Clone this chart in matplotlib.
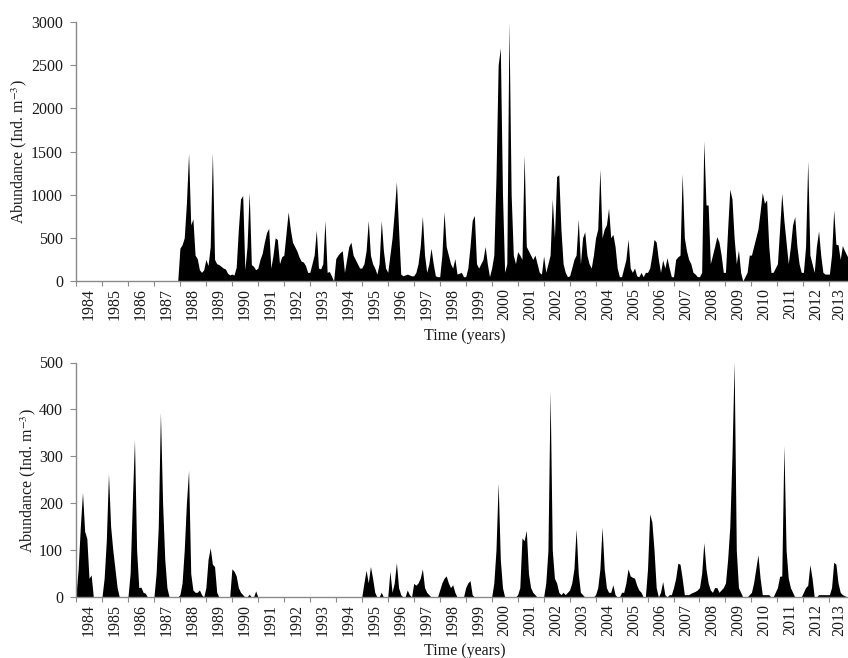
import numpy as np
import matplotlib
matplotlib.use("Agg")
import matplotlib.pyplot as plt
from matplotlib.ticker import FixedLocator, NullFormatter, FixedFormatter

plt.rcParams['font.family'] = ['Liberation Serif', 'DejaVu Serif']
plt.rcParams['mathtext.fontset'] = 'stix'

years = list(range(1984, 2014))

# monthly abundance, upper panel (Ind. m-3), Jan..Dec per row
abund_top = (
    [0] * 48 +                                                          # 1984-1987
    [380, 420, 500, 900, 1480, 650, 720, 300, 260, 130, 100, 130] +     # 1988
    [250, 180, 400, 1490, 250, 200, 190, 170, 150, 140, 90, 70] +       # 1989
    [80, 70, 160, 600, 950, 990, 130, 400, 1030, 190, 170, 130] +       # 1990
    [150, 250, 320, 450, 560, 610, 150, 300, 500, 480, 200, 280] +      # 1991
    [300, 550, 800, 600, 450, 400, 350, 280, 230, 220, 180, 100] +      # 1992
    [100, 200, 300, 590, 150, 140, 200, 700, 100, 110, 60, 0] +         # 1993
    [260, 300, 330, 350, 100, 250, 400, 450, 300, 250, 200, 150] +      # 1994
    [150, 200, 350, 700, 300, 200, 150, 80, 200, 700, 350, 150] +       # 1995
    [100, 300, 500, 800, 1150, 600, 80, 60, 70, 80, 70, 60] +           # 1996
    [60, 100, 200, 400, 750, 300, 100, 200, 380, 200, 60, 50] +         # 1997
    [50, 300, 800, 400, 300, 200, 150, 260, 80, 90, 100, 50] +          # 1998
    [50, 150, 400, 700, 760, 200, 150, 200, 250, 400, 200, 50] +        # 1999
    [150, 300, 1200, 2500, 2700, 1000, 100, 200, 3000, 1000, 300, 200] +  # 2000
    [340, 300, 250, 1460, 400, 350, 300, 250, 300, 200, 100, 80] +      # 2001
    [290, 100, 200, 300, 950, 500, 1210, 1230, 600, 200, 100, 50] +     # 2002
    [60, 150, 250, 300, 715, 200, 500, 570, 300, 200, 150, 300] +       # 2003
    [500, 600, 1295, 500, 600, 650, 843, 500, 541, 400, 150, 50] +      # 2004
    [50, 150, 250, 483, 150, 100, 150, 60, 50, 100, 50, 100] +          # 2005
    [100, 150, 300, 483, 450, 250, 100, 244, 150, 270, 150, 50] +       # 2006
    [50, 250, 280, 300, 1241, 500, 350, 250, 200, 100, 80, 50] +        # 2007
    [50, 100, 1624, 881, 880, 200, 300, 400, 514, 450, 300, 100] +      # 2008
    [100, 600, 1063, 950, 500, 200, 360, 100, 0, 50, 100, 300] +        # 2009
    [300, 400, 500, 600, 800, 1024, 900, 940, 400, 100, 100, 150] +     # 2010
    [200, 600, 1017, 700, 450, 200, 400, 650, 746, 400, 200, 100] +     # 2011
    [100, 400, 1392, 300, 200, 100, 400, 580, 300, 100, 80, 80] +       # 2012
    [80, 300, 823, 425, 420, 250, 410, 350, 300, 250, 200, 150]         # 2013
)

# monthly abundance, lower panel
abund_bottom = (
    [5, 60, 150, 223, 140, 125, 40, 47, 0, 0, 0, 0] +                   # 1984
    [0, 40, 120, 263, 150, 100, 60, 20, 0, 0, 0, 0] +                   # 1985
    [0, 50, 200, 335, 100, 20, 21, 10, 8, 0, 0, 0] +                    # 1986
    [0, 50, 150, 394, 200, 80, 20, 0, 0, 0, 0, 0] +                     # 1987
    [5, 30, 100, 200, 270, 50, 15, 10, 10, 15, 5, 0] +                  # 1988
    [20, 80, 105, 70, 65, 10, 0, 0, 0, 0, 0, 0] +                       # 1989
    [60, 55, 45, 20, 10, 5, 0, 0, 6, 0, 0, 13] +                        # 1990
    [0] * 48 +                                                          # 1991-1994
    [0, 30, 57, 30, 65, 40, 10, 0, 0, 10, 0, 0] +                       # 1995
    [0, 55, 10, 30, 73, 20, 5, 0, 0, 15, 5, 0] +                        # 1996
    [29, 25, 30, 40, 60, 20, 10, 5, 0, 0, 0, 0] +                       # 1997
    [15, 30, 40, 45, 30, 20, 26, 10, 0, 0, 0, 0] +                      # 1998
    [20, 30, 35, 5, 0, 0, 0, 0, 0, 0, 0, 0] +                           # 1999
    [0, 30, 100, 243, 80, 20, 0, 0, 0, 0, 0, 0] +                       # 2000
    [5, 20, 126, 120, 142, 50, 20, 10, 5, 0, 0, 0] +                    # 2001
    [0, 30, 100, 439, 100, 40, 30, 10, 5, 10, 5, 10] +                  # 2002
    [15, 30, 60, 145, 50, 10, 5, 0, 0, 0, 0, 0] +                       # 2003
    [5, 20, 60, 149, 60, 20, 10, 10, 26, 5, 0, 0] +                     # 2004
    [10, 10, 30, 60, 45, 42, 40, 25, 15, 10, 0, 0] +                    # 2005
    [60, 177, 160, 100, 20, 0, 10, 33, 5, 0, 5, 5] +                    # 2006
    [20, 40, 72, 70, 40, 5, 5, 5, 8, 10, 12, 15] +                      # 2007
    [20, 50, 116, 60, 30, 15, 10, 20, 20, 10, 15, 20] +                 # 2008
    [30, 80, 150, 300, 502, 100, 20, 10, 0, 0, 0, 5] +                  # 2009
    [10, 30, 60, 90, 40, 5, 5, 5, 5, 0, 0, 10] +                        # 2010
    [20, 44, 45, 323, 100, 40, 20, 10, 0, 0, 0, 0] +                    # 2011
    [10, 20, 25, 69, 40, 0, 0, 5, 5, 5, 5, 5] +                         # 2012
    [5, 20, 74, 70, 30, 10, 5, 3, 0, 0, 0, 0]                           # 2013
)

W, H = 848, 658
fig = plt.figure(figsize=(W / 100, H / 100), dpi=100)

GRAY = '#8a8a8a'
TXT = '#1a1a1a'
FS = 11.5
XMAX = 356.6


def style_axis(ax, values, ymax, ystep):
    x = np.arange(len(values))
    ax.fill_between(x, values, 0, color='black', lw=0)
    ax.set_xlim(0, XMAX)
    ax.set_ylim(0, ymax)
    ax.set_yticks(np.arange(0, ymax + 1, ystep))
    for s in ['top', 'right']:
        ax.spines[s].set_visible(False)
    for s in ['left', 'bottom']:
        ax.spines[s].set_color(GRAY)
        ax.spines[s].set_linewidth(1.0)
    # year boundaries as major ticks, labels centred on each year
    ax.xaxis.set_major_locator(FixedLocator([12 * k for k in range(len(years))]))
    ax.xaxis.set_major_formatter(NullFormatter())
    # last label nudged in so it stays inside the figure
    mids = [min(12 * k + 6, XMAX - 4) for k in range(len(years))]
    ax.xaxis.set_minor_locator(FixedLocator(mids))
    ax.xaxis.set_minor_formatter(FixedFormatter([str(y) for y in years]))
    ax.tick_params(axis='x', which='major', length=3.6, color=GRAY, direction='out')
    ax.tick_params(axis='x', which='minor', length=0, pad=5, labelrotation=90,
                   labelsize=FS, labelcolor=TXT)
    ax.tick_params(axis='y', length=4.3, color=GRAY, direction='out', pad=5,
                   labelsize=FS, labelcolor=TXT)


ax1 = fig.add_axes([76 / W, 1 - 281 / H, 772 / W, 259 / H])
style_axis(ax1, abund_top, 3000, 500)

ax2 = fig.add_axes([76 / W, 1 - 597 / H, 772 / W, 234.5 / H])
style_axis(ax2, abund_bottom, 500, 100)

ylab = r'Abundance (Ind. m$^{-3}$)'
fig.text(19 / W, 1 - 152 / H, ylab, rotation=90, ha='center', va='center',
         fontsize=FS, color=TXT)
fig.text(28 / W, 1 - 481 / H, ylab, rotation=90, ha='center', va='center',
         fontsize=FS, color=TXT)
fig.text(465 / W, 1 - 336 / H, 'Time (years)', ha='center', va='center',
         fontsize=FS, color=TXT)
fig.text(465 / W, 1 - 651 / H, 'Time (years)', ha='center', va='center',
         fontsize=FS, color=TXT)

fig.savefig('out.png', dpi=100)
